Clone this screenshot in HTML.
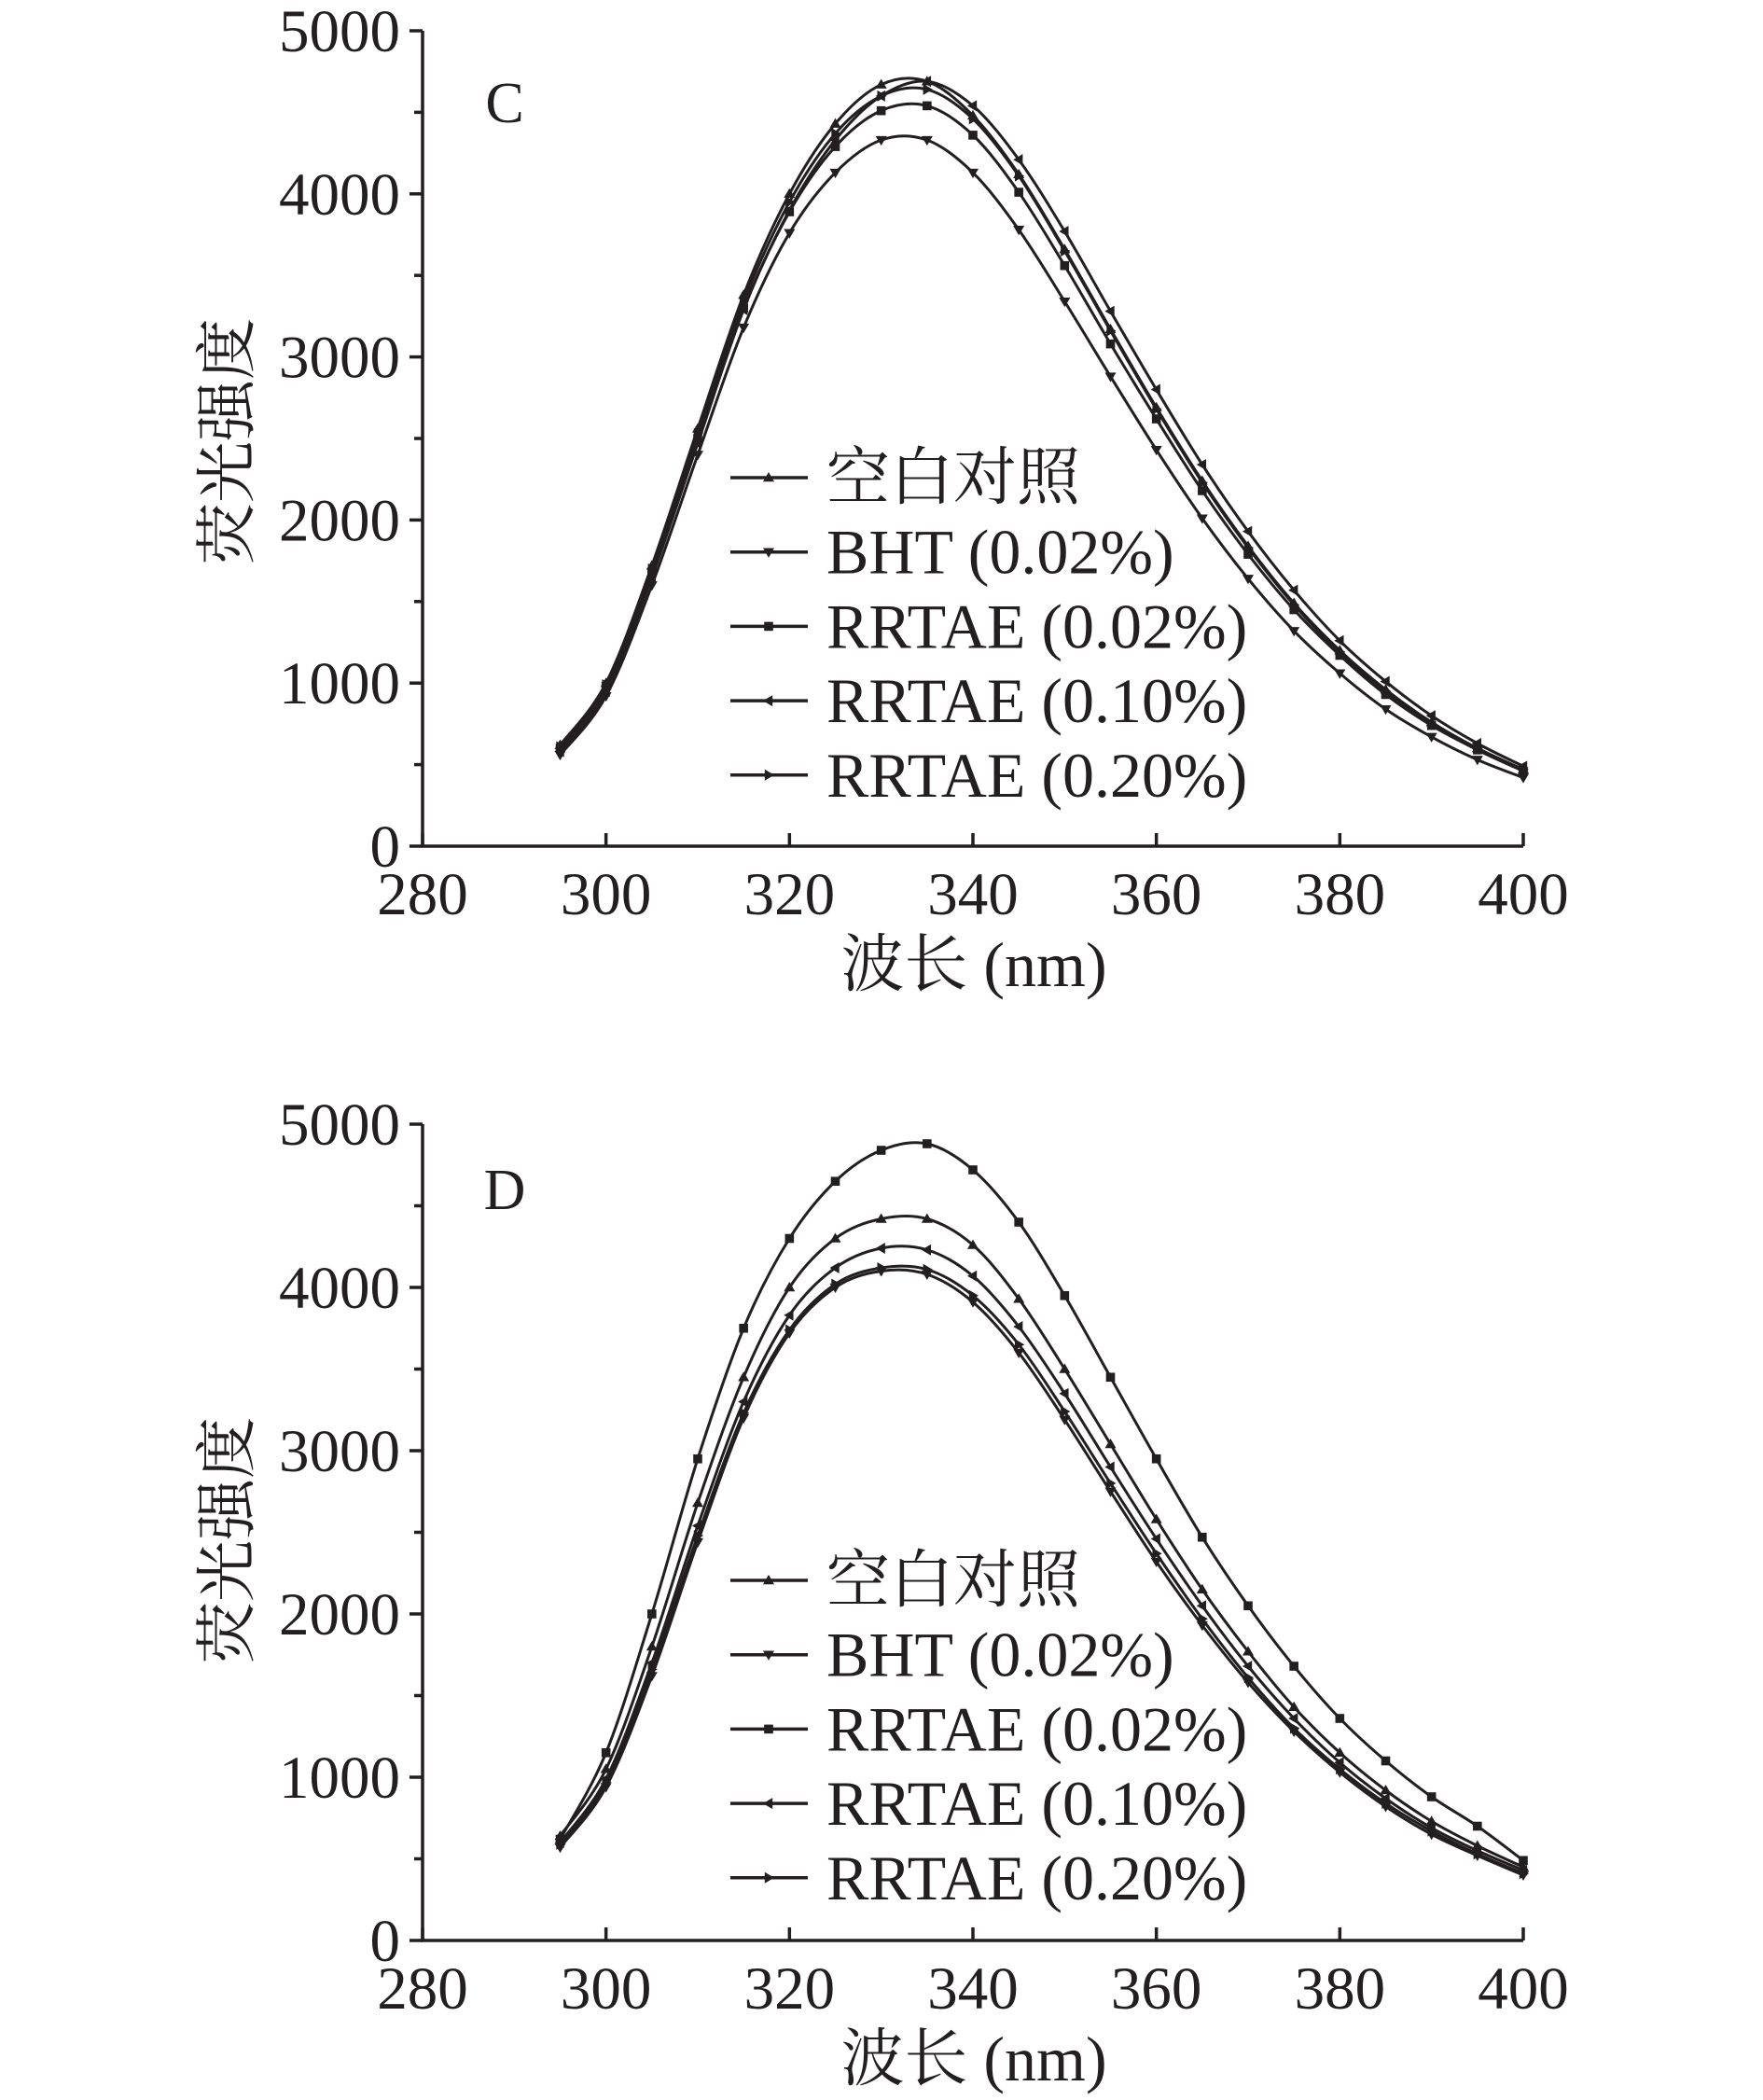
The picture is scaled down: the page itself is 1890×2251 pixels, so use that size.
<!DOCTYPE html>
<html><head><meta charset="utf-8"><style>
html,body{margin:0;padding:0;background:#fff;}
svg{display:block;}
text{font-family:"Liberation Serif","Noto Serif CJK SC",serif;fill:#231f20;}
</style></head><body>
<svg id="fig" width="1890" height="2251" viewBox="0 0 1890 2251" xmlns="http://www.w3.org/2000/svg"></svg>
<script>
const xs=[295,300,305,310,315,320,325,330,335,340,345,350,355,360,365,370,375,380,385,390,395,400];
const seriesNames=["空白对照","BHT (0.02%)","RRTAE (0.02%)","RRTAE (0.10%)","RRTAE (0.20%)"];
const xTicks=[280,300,320,340,360,380,400];
const yTicks=[0,1000,2000,3000,4000,5000];
const cBlank=[620,1000,1720,2560,3380,4000,4430,4670,4690,4480,4120,3660,3170,2690,2240,1840,1490,1200,960,760,600,470];
const cBHT=[560,920,1600,2400,3180,3760,4130,4330,4330,4130,3780,3340,2880,2430,2010,1640,1320,1060,840,670,530,420];
const cR02=[600,980,1680,2500,3300,3890,4290,4510,4540,4360,4010,3560,3080,2620,2180,1790,1450,1170,930,740,590,460];
const cR10=[580,950,1650,2470,3290,3900,4330,4600,4690,4540,4210,3770,3280,2800,2340,1930,1570,1260,1010,800,630,490];
const cR20=[610,990,1700,2530,3340,3950,4370,4600,4640,4460,4110,3650,3160,2680,2230,1830,1480,1190,950,750,600,470];
const dBlank=[640,1050,1800,2680,3450,4000,4300,4420,4420,4260,3930,3500,3040,2580,2150,1770,1430,1150,920,730,580,450];
const dBHT=[570,940,1620,2440,3200,3720,4000,4100,4080,3910,3600,3190,2750,2320,1930,1580,1280,1030,820,650,520,400];
const dR02=[620,1150,2000,2950,3750,4300,4650,4840,4880,4720,4400,3950,3450,2950,2470,2050,1680,1360,1100,880,700,490];
const dR10=[600,990,1700,2540,3300,3830,4120,4240,4230,4070,3760,3350,2900,2460,2050,1680,1360,1090,870,690,550,430];
const dR20=[590,970,1660,2480,3230,3740,4020,4120,4110,3950,3650,3240,2800,2370,1970,1610,1300,1050,840,670,530,410];

const NS="http://www.w3.org/2000/svg";
const svg=document.getElementById('fig');
function mk(tag,attrs,parent){const e=document.createElementNS(NS,tag);for(const k in attrs)e.setAttribute(k,attrs[k]);(parent||svg).appendChild(e);return e;}
function marker(g,type,x,y){
  const s=6;let pts;
  if(type==0)pts=[[x,y-s],[x-s,y+s*0.7],[x+s,y+s*0.7]];
  else if(type==1)pts=[[x,y+s],[x-s,y-s*0.7],[x+s,y-s*0.7]];
  else if(type==2)pts=[[x-s*0.8,y-s*0.8],[x+s*0.8,y-s*0.8],[x+s*0.8,y+s*0.8],[x-s*0.8,y+s*0.8]];
  else if(type==3)pts=[[x-s,y],[x+s*0.7,y-s],[x+s*0.7,y+s]];
  else pts=[[x+s,y],[x-s*0.7,y-s],[x-s*0.7,y+s]];
  const m=mk('polygon',{points:pts.map(p=>p.join(',')).join(' '),fill:'#231f20'},g);
  
  
}
function smoothPath(P){
  let d='M'+P[0][0]+','+P[0][1];
  for(let i=0;i<P.length-1;i++){
    const p0=P[Math.max(0,i-1)],p1=P[i],p2=P[i+1],p3=P[Math.min(P.length-1,i+2)];
    const c1=[p1[0]+(p2[0]-p0[0])/6,p1[1]+(p2[1]-p0[1])/6];
    const c2=[p2[0]-(p3[0]-p1[0])/6,p2[1]-(p3[1]-p1[1])/6];
    d+=' C'+c1.join(',')+' '+c2.join(',')+' '+p2.join(',');
  }
  return d;
}
function panel(letter,y5000,y0,data,legendY,titleY,letterY){
  const g=mk('g',{});
  
  
  const x0=453,x1=1633;
  const X=v=>x0+(v-280)/120*(x1-x0);
  const Y=v=>y0+(y5000-y0)*v/5000;
  const ax=mk('path',{d:`M${X(280)},${Y(5000)} L${X(280)},${Y(0)} L${X(400)},${Y(0)}`,fill:'none',stroke:'#231f20','stroke-width':3.5},g);
  
  
  for(let v=0;v<=5000;v+=500){
    const len=v%1000==0?14:9;
    const t=mk('line',{x1:X(280)-len,x2:X(280),y1:Y(v),y2:Y(v),stroke:'#231f20','stroke-width':3.5},g);
    
    
  }
  yTicks.forEach(v=>{
    const t=mk('text',{x:X(280)-24,y:Y(v)+22,'text-anchor':'end','font-size':65},g);t.textContent=v;
    
    
  });
  xTicks.forEach(v=>{
    const l=mk('line',{x1:X(v),x2:X(v),y1:Y(0),y2:Y(0)-14,stroke:'#231f20','stroke-width':3.5},g);
    
    
    const t=mk('text',{x:X(v),y:Y(0)+73,'text-anchor':'middle','font-size':65},g);t.textContent=v;
    
    
  });
  const yt=mk('text',{x:0,y:0,'text-anchor':'middle','font-size':66,transform:`translate(266,${titleY}) rotate(-90)`},g);
  yt.textContent='荧光强度';
  
  
  const xt=mk('text',{x:1044,y:Y(0)+150,'text-anchor':'middle','font-size':68},g);
  xt.textContent='波长 (nm)';
  
  
  const pl=mk('text',{x:541,y:letterY,'text-anchor':'middle','font-size':62},g);
  pl.textContent=letter;
  
  
  data.forEach((arr,si)=>{
    const sg=mk('g',{},g);
    
    
    const P=xs.map((x,i)=>[X(x),Y(arr[i])]);
    const p=mk('path',{d:smoothPath(P),fill:'none',stroke:'#231f20','stroke-width':3},sg);
    
    
    P.forEach(q=>marker(sg,si,q[0],q[1]));
  });
  seriesNames.forEach((n,i)=>{
    const ly=legendY+i*79.7;
    const lg=mk('g',{},g);
    
    
    mk('line',{x1:783,x2:866,y1:ly,y2:ly,stroke:'#231f20','stroke-width':3.5},lg);
    marker(lg,i,824,ly);
    const t=mk('text',{x:886,y:ly+23,'font-size':68},lg);t.textContent=n;
  });
}
panel('C',33,907,[cBlank,cBHT,cR02,cR10,cR20],512,473,131);
panel('D',1205,2080,[dBlank,dBHT,dR02,dR10,dR20],1694,1651,1296);
</script>
</body></html>
